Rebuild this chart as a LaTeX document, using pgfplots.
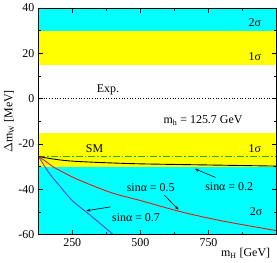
\documentclass[border=0pt]{standalone}
\usepackage{pgfplots}
\pgfplotsset{compat=1.18}
\usepackage{fontspec}
\setmainfont{Liberation Serif}
\usetikzlibrary{arrows.meta}
\definecolor{bandcyan}{RGB}{0,255,255}
\definecolor{bandyellow}{RGB}{255,255,0}
\definecolor{smgreen}{RGB}{40,170,20}
\definecolor{linered}{RGB}{235,20,20}
\definecolor{lineblue}{RGB}{100,60,230}
\begin{document}
\fontsize{12}{14}\selectfont
\begin{tikzpicture}
\begin{axis}[
  scale only axis,
  width=238.7bp, height=227bp,
  xmin=125.7, xmax=1000, ymin=-60, ymax=40,
  xtick={250,500,750}, minor xtick={375,625,875},
  ytick={-60,-40,-20,0,20,40}, minor ytick={-50,-30,-10,10,30},
  tick align=inside, tick pos=both,
  major tick length=5bp, minor tick length=3bp,
  every tick/.style={black, line width=0.6pt},
  axis line style={line width=0.8pt},
  axis on top,
  /pgf/number format/assume math mode=true,
  ticklabel style={font=\fontsize{12}{14}\selectfont},
  xlabel={m\textsubscript{H} [GeV]},
  xlabel style={at={(axis description cs:0.87,0)}, anchor=north, yshift=-10bp, font=\fontsize{12}{14}\selectfont},
  ylabel={$\Delta$m\textsubscript{W} [MeV]},
  ylabel style={font=\fontsize{12}{14}\selectfont, yshift=-4bp},
  clip=true,
]
% bands
\addplot[draw=none, fill=bandcyan] coordinates {(125.7,-60) (1000,-60) (1000,40) (125.7,40)} -- cycle;
\addplot[draw=none, fill=bandyellow] coordinates {(125.7,15) (1000,15) (1000,30) (125.7,30)} -- cycle;
\addplot[draw=none, fill=bandyellow] coordinates {(125.7,-30) (1000,-30) (1000,-15) (125.7,-15)} -- cycle;
\addplot[draw=none, fill=white] coordinates {(125.7,-15) (1000,-15) (1000,15) (125.7,15)} -- cycle;
% Exp line
\addplot[black, dotted, line width=0.7pt] coordinates {(125.7,0) (1000,0)};
% SM line
\addplot[smgreen, line width=0.9pt, dash pattern=on 7pt off 2pt on 1.5pt off 2pt] coordinates {(125.7,-25.5) (1000,-25.5)};
% sin alpha = 0.2
\addplot[black, line width=0.9pt, smooth] coordinates {
 (125.7,-25.5) (150,-26.1) (200,-27.0) (250,-27.6) (350,-28.2) (500,-28.8) (750,-29.3) (1000,-29.8)};
% sin alpha = 0.5
\addplot[linered, line width=0.9pt, smooth] coordinates {
 (125.7,-25.5) (150,-27.5) (184,-30.4) (250,-34.6) (306,-37.5) (400,-41.8) (500,-45.0) (650,-50.0) (800,-54.0) (1000,-58.3)};
% sin alpha = 0.7
\addplot[lineblue, line width=0.9pt, smooth] coordinates {
 (125.7,-25.5) (166,-33.0) (202,-38.3) (250,-45.0) (307,-50.6) (355,-55.4) (400,-60.0) (415,-61.3)};
% labels
\node at (axis cs:920,33.4) {2σ};
\node at (axis cs:920,18.7) {1σ};
\node at (axis cs:920,-21.9) {1σ};
\node at (axis cs:925,-49.8) {2σ};
\node[anchor=south] at (axis cs:381,-0.3) {Exp.};
\node at (axis cs:730,-9.6) {m\textsubscript{h} = 125.7 GeV};
\node at (axis cs:332,-21.9) {SM};
\node at (axis cs:826,-38.8) {sinα = 0.2};
\node at (axis cs:538,-39.3) {sinα = 0.5};
\node at (axis cs:484,-52.7) {sinα = 0.7};
\draw[-{Stealth[length=4pt,width=3pt]}, line width=0.6pt] (axis cs:776,-34.8) -- (axis cs:700,-31.0);
\draw[-{Stealth[length=4pt,width=3pt]}, line width=0.6pt] (axis cs:588,-42.6) -- (axis cs:640,-49.0);
\draw[-{Stealth[length=4pt,width=3pt]}, line width=0.6pt] (axis cs:391,-47.8) -- (axis cs:302,-49.5);
\end{axis}
\end{tikzpicture}
\end{document}
